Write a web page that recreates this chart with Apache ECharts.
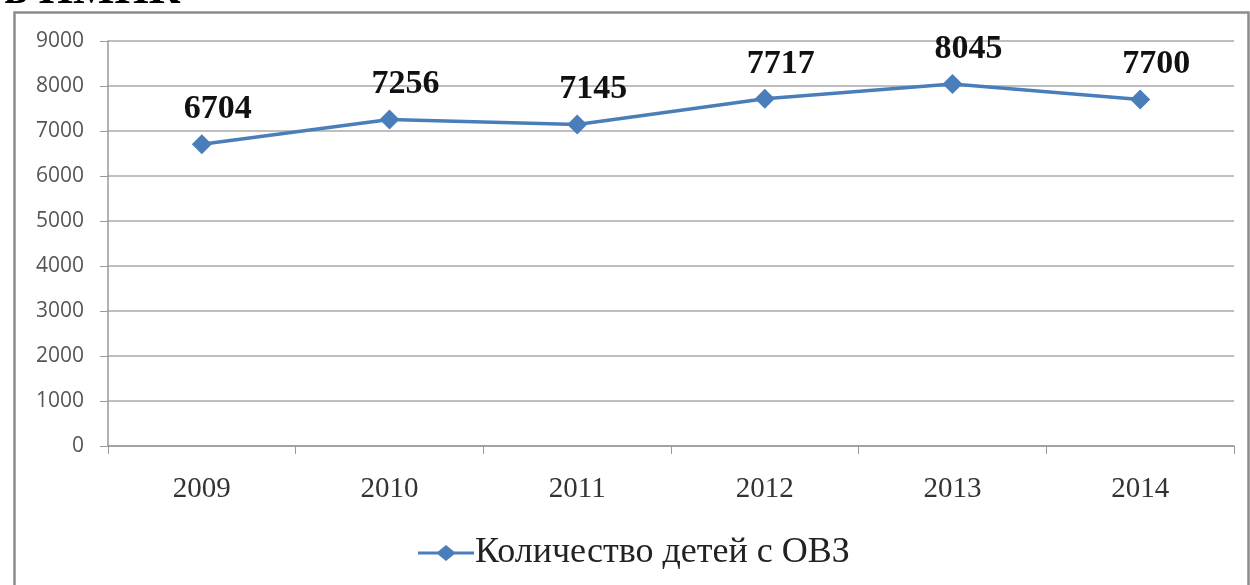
<!DOCTYPE html>
<html>
<head>
<meta charset="utf-8">
<script src="https://cdn.jsdelivr.net/npm/echarts@6/dist/echarts.min.js"></script>
<style>html,body{margin:0;padding:0;background:#fff;}#c{width:1250px;height:585px;}</style>
</head>
<body>
<div id="c"></div>
<script>
const categories = ['2009', '2010', '2011', '2012', '2013', '2014'];
const values = [6704, 7256, 7145, 7717, 8045, 7700];
const seriesName = 'Количество детей с ОВЗ';
const headingText = 'в ИМИК';

const chart = echarts.init(document.getElementById('c'));
chart.setOption({
  animation: false,
  backgroundColor: '#fff',
  graphic: [
    { type: 'rect', left: 12, top: 10, shape: { width: 1234, height: 590 },
      style: { fill: 'none', stroke: '#8c8c8c', lineWidth: 2.5 } },
    { type: 'text', left: 4, top: -30,
      style: { text: headingText, font: 'bold 44px "Liberation Serif", serif', fill: '#000' } }
  ],
  grid: { left: 108, right: 16, top: 41, bottom: 139 },
  legend: {
    bottom: 9, left: 413,
    itemWidth: 56, itemHeight: 16, itemGap: 0,
    icon: 'path://M0,6.5 L20,6.5 L28,0 L36,6.5 L56,6.5 L56,9.5 L36,9.5 L28,16 L20,9.5 L0,9.5 Z',
    textStyle: { fontFamily: '"Liberation Serif", serif', fontSize: 36, color: '#222', padding: [0, 0, 0, -4] },
    data: [seriesName]
  },
  xAxis: {
    type: 'category', data: categories, boundaryGap: true,
    axisLine: { lineStyle: { color: '#999', width: 1.5 } },
    axisTick: { show: true, length: 8, lineStyle: { color: '#999' } },
    axisLabel: { margin: 29, fontFamily: '"Liberation Serif", serif', fontSize: 29, color: '#333' }
  },
  yAxis: {
    type: 'value', min: 0, max: 9000, interval: 1000,
    axisLine: { show: true, lineStyle: { color: '#999', width: 1.5 } },
    axisTick: { show: true, length: 8, lineStyle: { color: '#999' } },
    splitLine: { lineStyle: { color: '#aaa', width: 1.5 } },
    axisLabel: { margin: 24, formatter: v => String(v),
      fontFamily: '"Open Sans", "DejaVu Sans", sans-serif', fontSize: 21, color: '#555' }
  },
  series: [{
    name: seriesName, type: 'line', data: values,
    color: '#4a7ebb',
    lineStyle: { width: 3.5, color: '#4a7ebb' },
    symbol: 'diamond', symbolSize: 20,
    itemStyle: { color: '#4a7ebb' },
    label: { show: true, position: 'top', distance: 8, offset: [16, 0],
      fontFamily: '"Liberation Serif", serif', fontWeight: 'bold', fontSize: 34, color: '#111' }
  }]
});
</script>
</body>
</html>
